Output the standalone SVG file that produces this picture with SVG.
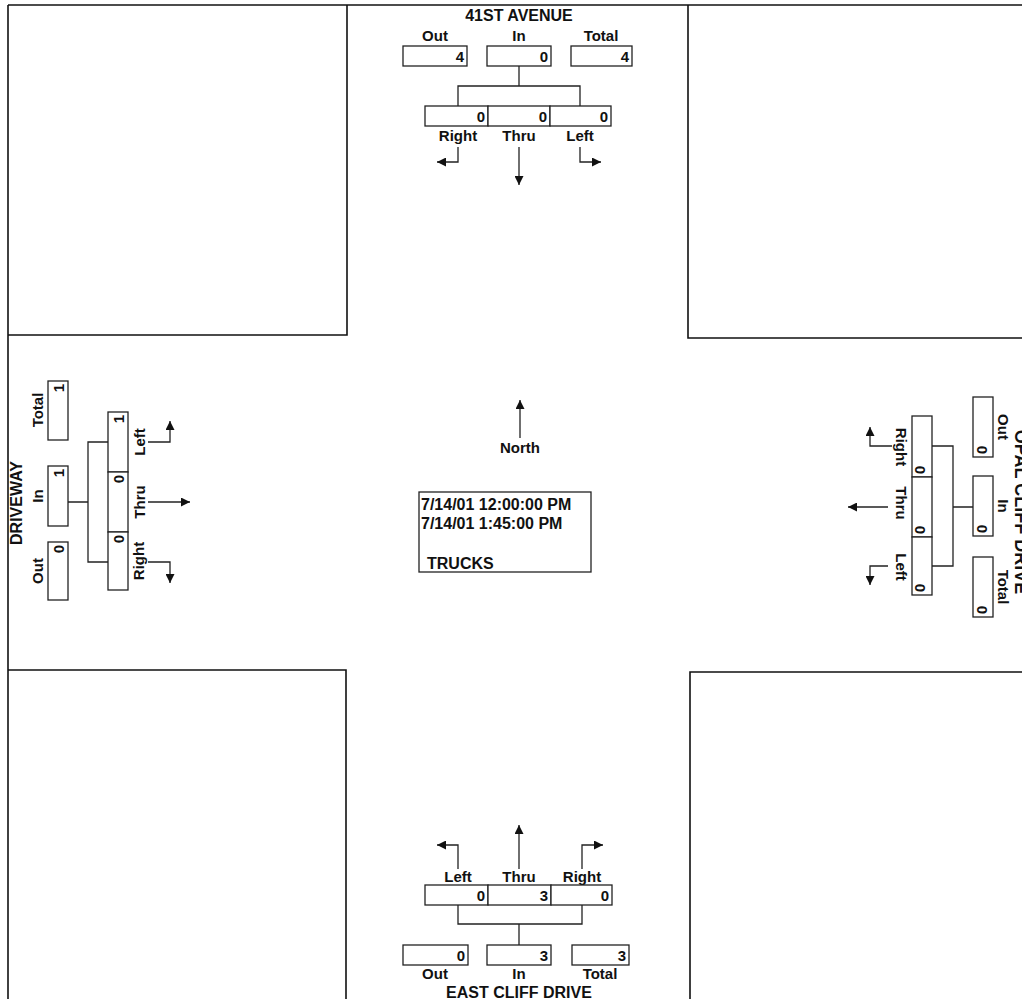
<svg xmlns="http://www.w3.org/2000/svg" width="1022" height="999" viewBox="0 0 1022 999">
<style>
text{font-family:"Liberation Sans",Arial,sans-serif;fill:#111;font-weight:bold}
.lbl{font-size:15px;text-anchor:middle}
.val{font-size:15px;text-anchor:end}
.road{font-size:16px;text-anchor:middle}
.info{font-size:16px}
.box{fill:#fff;stroke:#222;stroke-width:1.3}
.ln{fill:none;stroke:#222;stroke-width:1.3}
.arr{fill:none;stroke:#222;stroke-width:1.3;marker-end:url(#ah)}
.quad{fill:none;stroke:#111;stroke-width:1.6}
</style>
<defs>
<marker id="ah" viewBox="0 0 10 10" refX="10" refY="5" markerWidth="10" markerHeight="9" markerUnits="userSpaceOnUse" orient="auto"><path d="M0,0 L10,5 L0,10 z" fill="#111"/></marker>
</defs>
<rect width="1022" height="999" fill="#fff"/>
<g id="quadrants">
<path class="quad" d="M8,5 H1022" stroke-width="2.2"/>
<path class="quad" d="M8,5 V999" stroke-width="2.6"/>
<path class="quad" d="M347,5 V335 H8"/>
<path class="quad" d="M688,5 V338 H1022"/>
<path class="quad" d="M8,670 H346 V999"/>
<path class="quad" d="M1022,672 H690 V999"/>
</g>
<g id="connectors">
<path class="ln" d="M519,66 V86 M458,106 V86 H580 V106"/>
<path class="arr" d="M458,147 V162 H437"/>
<path class="arr" d="M519,147 V185"/>
<path class="arr" d="M580,147 V162 H601"/>
<path class="arr" d="M458,869 V845 H437"/>
<path class="arr" d="M519,869 V825"/>
<path class="arr" d="M582,869 V845 H603"/>
<path class="ln" d="M458,905 V924 H582 V905 M519,924 V945"/>
<path class="ln" d="M68,502 H88 M108,442 H88 V562 H108"/>
<path class="arr" d="M148,442 H170 V421"/>
<path class="arr" d="M148,502 H190"/>
<path class="arr" d="M148,562 H170 V583"/>
<path class="ln" d="M932,446 H953 V566 H932 M953,507 H973"/>
<path class="arr" d="M892,446 H870 V427"/>
<path class="arr" d="M888,507 H848"/>
<path class="arr" d="M888,566 H870 V585"/>
<path class="arr" d="M520,438 V400"/>
</g>
<g id="north-approach">
<text class="road" x="519" y="21">41ST AVENUE</text>
<text class="lbl" x="435" y="41">Out</text>
<text class="lbl" x="519" y="41">In</text>
<text class="lbl" x="601" y="41">Total</text>
<rect class="box" x="403" y="46" width="64" height="20"/>
<rect class="box" x="487" y="46" width="64" height="20"/>
<rect class="box" x="571" y="46" width="61" height="20"/>
<text class="val" x="464" y="62">4</text>
<text class="val" x="548" y="62">0</text>
<text class="val" x="629" y="62">4</text>
<rect class="box" x="425" y="106" width="63" height="20"/>
<rect class="box" x="488" y="106" width="62" height="20"/>
<rect class="box" x="550" y="106" width="61" height="20"/>
<text class="val" x="485" y="122">0</text>
<text class="val" x="547" y="122">0</text>
<text class="val" x="608" y="122">0</text>
<text class="lbl" x="458" y="141">Right</text>
<text class="lbl" x="519" y="141">Thru</text>
<text class="lbl" x="580" y="141">Left</text>
</g>
<g id="south-approach">
<text class="lbl" x="458" y="882">Left</text>
<text class="lbl" x="519" y="882">Thru</text>
<text class="lbl" x="582" y="882">Right</text>
<rect class="box" x="425" y="885" width="63" height="20"/>
<rect class="box" x="488" y="885" width="63" height="20"/>
<rect class="box" x="551" y="885" width="61" height="20"/>
<text class="val" x="485" y="901">0</text>
<text class="val" x="548" y="901">3</text>
<text class="val" x="609" y="901">0</text>
<rect class="box" x="403" y="945" width="65" height="20"/>
<rect class="box" x="487" y="945" width="64" height="20"/>
<rect class="box" x="572" y="945" width="57" height="20"/>
<text class="val" x="465" y="961">0</text>
<text class="val" x="548" y="961">3</text>
<text class="val" x="626" y="961">3</text>
<text class="lbl" x="435" y="979">Out</text>
<text class="lbl" x="519" y="979">In</text>
<text class="lbl" x="600" y="979">Total</text>
<text class="road" x="519" y="998">EAST CLIFF DRIVE</text>
</g>
<g id="west-approach">
<text class="road" transform="translate(22,503) rotate(-90)">DRIVEWAY</text>
<text class="lbl" transform="translate(43,571) rotate(-90)">Out</text>
<text class="lbl" transform="translate(43,496) rotate(-90)">In</text>
<text class="lbl" transform="translate(43,410) rotate(-90)">Total</text>
<rect class="box" x="48" y="381" width="20" height="59"/>
<rect class="box" x="48" y="466" width="20" height="60"/>
<rect class="box" x="48" y="542" width="20" height="58"/>
<text class="val" transform="translate(64,384) rotate(-90)">1</text>
<text class="val" transform="translate(64,469) rotate(-90)">1</text>
<text class="val" transform="translate(64,545) rotate(-90)">0</text>
<rect class="box" x="108" y="412" width="20" height="60"/>
<rect class="box" x="108" y="472" width="20" height="60"/>
<rect class="box" x="108" y="532" width="20" height="58"/>
<text class="val" transform="translate(124,415) rotate(-90)">1</text>
<text class="val" transform="translate(124,475) rotate(-90)">0</text>
<text class="val" transform="translate(124,535) rotate(-90)">0</text>
<text class="lbl" transform="translate(145,442) rotate(-90)">Left</text>
<text class="lbl" transform="translate(145,502) rotate(-90)">Thru</text>
<text class="lbl" transform="translate(144,561) rotate(-90)">Right</text>
</g>
<g id="east-approach">
<rect class="box" x="912" y="416" width="20" height="61"/>
<rect class="box" x="912" y="477" width="20" height="60"/>
<rect class="box" x="912" y="537" width="20" height="58"/>
<text class="val" transform="translate(915,474) rotate(90)">0</text>
<text class="val" transform="translate(915,534) rotate(90)">0</text>
<text class="val" transform="translate(915,592) rotate(90)">0</text>
<text class="lbl" transform="translate(896,447) rotate(90)">Right</text>
<text class="lbl" transform="translate(896,503) rotate(90)">Thru</text>
<text class="lbl" transform="translate(896,567) rotate(90)">Left</text>
<rect class="box" x="973" y="397" width="20" height="60"/>
<rect class="box" x="973" y="476" width="20" height="60"/>
<rect class="box" x="973" y="557" width="20" height="60"/>
<text class="val" transform="translate(977,454) rotate(90)">0</text>
<text class="val" transform="translate(977,533) rotate(90)">0</text>
<text class="val" transform="translate(977,614) rotate(90)">0</text>
<text class="lbl" transform="translate(998,427) rotate(90)">Out</text>
<text class="lbl" transform="translate(998,506) rotate(90)">In</text>
<text class="lbl" transform="translate(998,587) rotate(90)">Total</text>
<text class="road" style="font-size:18px" transform="translate(1015,512) rotate(90)">OPAL CLIFF DRIVE</text>
</g>
<g id="north-indicator">
<text class="lbl" x="520" y="453">North</text>
</g>
<g id="info-box">
<rect class="box" x="419" y="492" width="172" height="80"/>
<text class="info" x="421" y="510">7/14/01 12:00:00 PM</text>
<text class="info" x="421" y="529">7/14/01 1:45:00 PM</text>
<text class="info" x="427" y="569">TRUCKS</text>
</g>
</svg>
